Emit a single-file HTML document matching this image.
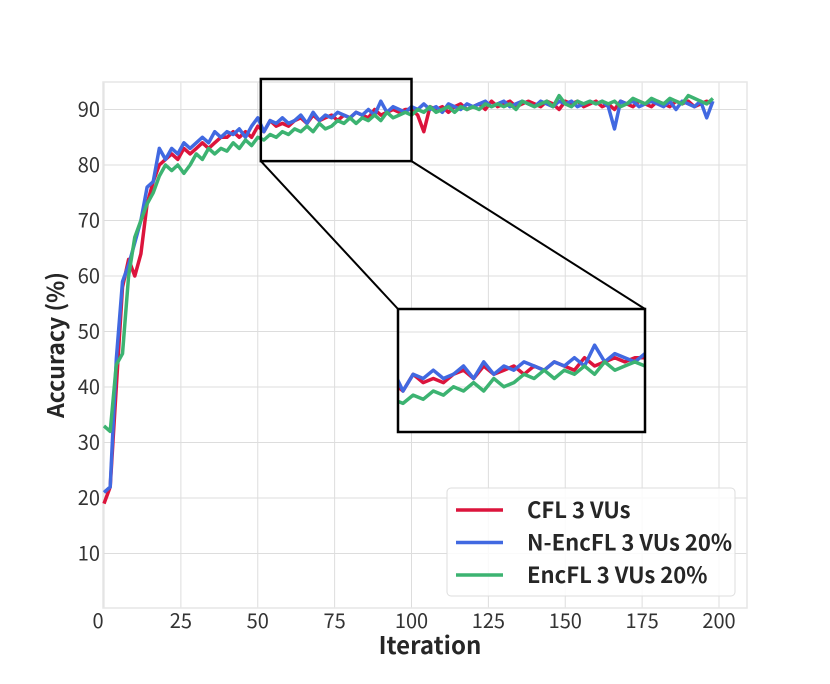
<!DOCTYPE html>
<html><head><meta charset="utf-8"><style>
html,body{margin:0;padding:0;background:#fff;overflow:hidden;width:830px;height:684px;}
svg{display:block;font-family:"Noto Sans CJK JP","DejaVu Sans",sans-serif;}
</style></head><body>
<svg id="chart" width="830" height="684" viewBox="0 0 830 684"></svg>
<script>
const iterations=[];for(let i=0;i<100;i++)iterations.push(i*2);
const cflValues=[19,22,40,58,63,60,64,73,77,80, 81,82,81,83,82,83,84,83,84,85, 85,86,85,86,85,87,86,88,87,87.5, 87,88,88.5,87.5,89,88,88.5,89,88,89, 88.5,89.5,89,88.5,90,89,89.5,90,89.5,90, 90,89,86,90.5,90,90.5,89.5,90.5,91,90, 90.5,91,90,91.5,90.5,91,91.5,90.5,91,91.5, 91,90.5,91.5,91,90,91.5,91,91.5,90.5,91, 91.5,90.5,91,90,91.5,91,90.5,91.5,91,90.5, 91.5,91,90.5,91.5,91,91.5,90.5,91,91.5,91];
const nencValues=[21,22,45,59,62,66,70,76,77,83, 81,83,82,84,83,84,85,84,86,85, 86,85.5,86.5,85,87,88.5,86,88,87.5,88.5, 87.5,88,89,87.5,89.5,88,89,88.5,89.5,89, 88.5,89.5,89,90,89,91.5,89.5,90.5,90,89.5, 90.5,90,91,90,90.5,89.5,91,90.5,90,91, 90.5,91,91.5,90.5,91,91.5,90.5,91,91.5,91, 90.5,91.5,91,90.5,91.5,91,91.5,90.5,91,91.5, 91,91.5,90.5,86.5,91.5,91,91.5,90.5,91,91.5, 91,90.5,91.5,90,91.5,91,90.5,91.5,88.5,91.5];
const encValues=[33,32,44,46,60,67,70,73,75,78, 80,79,80,78.5,80,82,81,83,82,83, 82.5,84,83,84.5,83.5,85,84.5,85.5,85,86, 85.5,86.5,86,87,86,87.5,86.5,87,88,87.5, 88.5,87.5,88.5,88,89,88,89.5,88.5,89,89.5, 89,90,89.5,90.5,89.5,90,90.5,89.5,90.5,90, 90.5,90,91,90.5,91,90.5,91,90,91.5,91, 90.5,91,91.5,90.5,92.5,91,90.5,91.5,91,91.5, 91,91.5,91,91.5,90.5,91,92,91.5,91,92, 91.5,91,92,91.5,91,92.5,92,91.5,91,92];
const xTicks=[0,25,50,75,100,125,150,175,200];
const yTicks=[10,20,30,40,50,60,70,80,90];
const seriesNames=["CFL 3 VUs","N-EncFL 3 VUs 20%","EncFL 3 VUs 20%"];
const seriesColors=["#dc143c","#4169e1","#3cb371"];
const seriesData=[cflValues,nencValues,encValues];

const NS="http://www.w3.org/2000/svg";
const svg=document.getElementById('chart');
function mk(tag,attrs,parent){const e=document.createElementNS(NS,tag);for(const k in attrs)e.setAttribute(k,attrs[k]);(parent||svg).appendChild(e);return e;}
const L=103,R=747,T=82,B=608;
const xS=v=>104+v*3.075;
const yS=v=>609-v*5.55;

for(const t of xTicks){const g=mk('line',{x1:xS(t),x2:xS(t),y1:T,y2:B,stroke:'#dddddd','stroke-width':1});


const tx=mk('text',{x:xS(t)-(t===0?6:0),y:628,'text-anchor':'middle','font-size':20,fill:'#333'});tx.textContent=t;

}
for(const t of yTicks){const g=mk('line',{x1:L,x2:R,y1:yS(t),y2:yS(t),stroke:'#dddddd','stroke-width':1});


const tx=mk('text',{x:100,y:yS(t)+7,'text-anchor':'end','font-size':20,fill:'#333'});tx.textContent=t;

}
const fr=mk('rect',{x:L,y:T,width:R-L,height:B-T,fill:'none',stroke:'#e6e6e6','stroke-width':1.5});



function path(xf,yf,vals){return vals.map((v,i)=>(i?'L':'M')+xf(iterations[i]).toFixed(1)+','+yf(v).toFixed(1)).join('');}
seriesData.forEach((d,k)=>{const p=mk('path',{d:path(xS,yS,d),fill:'none',stroke:seriesColors[k],'stroke-width':3.5,'stroke-linejoin':'round'});

});

const zx0=51,zx1=100,zy0=80.7,zy1=95.5;
const rx0=xS(zx0),rx1=xS(zx1),ry0=yS(zy1),ry1=yS(zy0);
const IL=398,IR=645,IT=309,IB=432;
const c1=mk('line',{x1:rx0,y1:ry1,x2:IL,y2:IT,stroke:'#000','stroke-width':2});


const c2=mk('line',{x1:rx1,y1:ry1,x2:IR,y2:IT,stroke:'#000','stroke-width':2});


const zr=mk('rect',{x:rx0,y:ry0,width:rx1-rx0,height:ry1-ry0,fill:'none',stroke:'#000','stroke-width':2.5});



const ib=mk('rect',{x:IL,y:IT,width:IR-IL,height:IB-IT,fill:'#fff'});


const ixS=v=>IL+(v-zx0)/(zx1-zx0)*(IR-IL);
const iyS=v=>IB-(v-zy0)/(zy1-zy0)*(IB-IT)+3;
const ig=mk('line',{x1:ixS(75),x2:ixS(75),y1:IT,y2:IB,stroke:'#dddddd'});


for(const y of [332,387]){const h=mk('line',{x1:IL,x2:IR,y1:y,y2:y,stroke:'#dddddd'});

}
const clip=mk('clipPath',{id:'ic'});
mk('rect',{x:IL,y:IT,width:IR-IL,height:IB-IT},clip);
seriesData.forEach((d,k)=>{const p=mk('path',{d:path(ixS,iyS,d),fill:'none',stroke:seriesColors[k],'stroke-width':3.5,'stroke-linejoin':'round','clip-path':'url(#ic)'});

});
const ifr=mk('rect',{x:IL,y:IT,width:IR-IL,height:IB-IT,fill:'none',stroke:'#000','stroke-width':2.5});



const lg=mk('rect',{x:447,y:488,width:288,height:108,rx:4,fill:'#fff','fill-opacity':0.85,stroke:'#dddddd'});


seriesNames.forEach((n,k)=>{const y=510+k*32.5;
const l=mk('line',{x1:456,x2:503,y1:y,y2:y,stroke:seriesColors[k],'stroke-width':3.5});


const t=mk('text',{x:527,y:y+8,'font-size':22,'font-weight':'bold',fill:'#262626'});t.textContent=n;

});

const xt=mk('text',{x:430,y:654,'text-anchor':'middle','font-size':24,'font-weight':'bold',fill:'#262626'});xt.textContent='Iteration';


const yt=mk('text',{x:0,y:0,'text-anchor':'middle','font-size':23,'font-weight':'bold',fill:'#262626',transform:'translate(64,345) rotate(-90)'});yt.textContent='Accuracy (%)';


</script>
</body></html>
